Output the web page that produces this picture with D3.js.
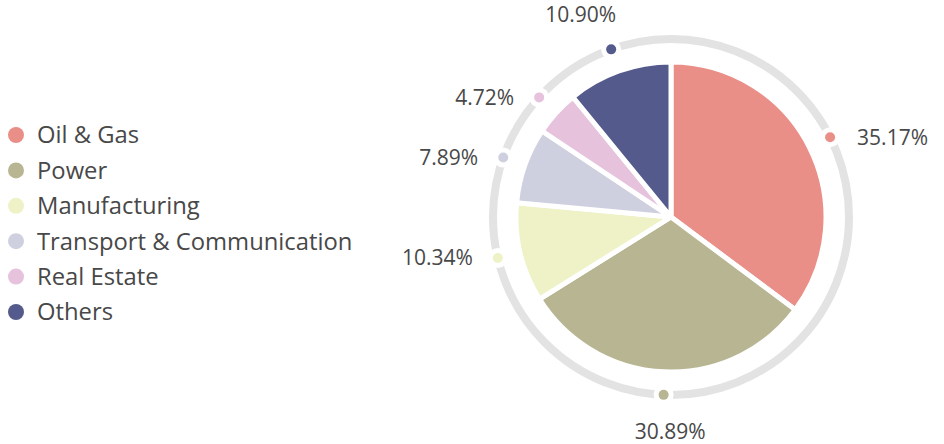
<!DOCTYPE html>
<html>
<head>
<meta charset="utf-8">
<script src="https://cdn.jsdelivr.net/npm/d3@7"></script>
<style>
  body { margin: 0; background: #fff; }
  text { font-family: "Open Sans", sans-serif; fill: #484848; }
</style>
</head>
<body>
<div id="chart"></div>
<script>
// data
const categories = ["Oil & Gas", "Power", "Manufacturing", "Transport & Communication", "Real Estate", "Others"];
const shares = [35.17, 30.89, 10.34, 7.89, 4.72, 10.90];
const colors = ["#ea8f88", "#b8b592", "#eef2c6", "#cfd0df", "#e6c2dc", "#545b8c"];

const width = 944, height = 444;
const cx = 671, cy = 217;
const radius = 155, ringR = 178;

const svg = d3.select("#chart").append("svg")
    .attr("width", width)
    .attr("height", height);

const color = d3.scaleOrdinal().domain(categories).range(colors);

// legend
const legend = svg.append("g").attr("transform", "translate(16,135)");
const rows = legend.selectAll("g").data(categories).enter().append("g")
    .attr("transform", (d, i) => "translate(0," + i * 35.4 + ")");
rows.append("circle").attr("r", 8).attr("fill", d => color(d));
rows.append("text")
    .attr("x", 21)
    .attr("dy", "0.35em")
    .style("font-size", "23.8px")
    .text(d => d);

const g = svg.append("g").attr("transform", "translate(" + cx + "," + cy + ")");

// outer ring
g.append("circle")
    .attr("r", ringR)
    .attr("fill", "none")
    .attr("stroke", "#e3e3e3")
    .attr("stroke-width", 8);

const pie = d3.pie().sort(null).value(d => d.value);
const arcs = pie(categories.map((c, i) => ({ name: c, value: shares[i] })));

const arc = d3.arc().innerRadius(0).outerRadius(radius);

g.selectAll("path.slice").data(arcs).enter().append("path")
    .attr("class", "slice")
    .attr("d", arc)
    .attr("fill", d => color(d.data.name))
    .attr("stroke", "#fff")
    .attr("stroke-width", 5)
    .attr("stroke-linejoin", "round");

// dots on the ring
const mid = d => (d.startAngle + d.endAngle) / 2;
const dots = g.selectAll("g.dot").data(arcs).enter().append("g")
    .attr("class", "dot")
    .attr("transform", d => "translate(" + ringR * Math.sin(mid(d)) + "," + (-ringR * Math.cos(mid(d))) + ")");
dots.append("circle").attr("r", 10).attr("fill", "#fff");
dots.append("circle").attr("r", 5).attr("fill", d => color(d.data.name));

// labels
g.selectAll("text.lbl").data(arcs).enter().append("text")
    .attr("class", "lbl")
    .style("font-size", "21px")
    .each(function(d) {
        const a = mid(d), s = Math.sin(a), c = Math.cos(a);
        const t = d3.select(this);
        if (Math.abs(s) > 0.5) {
            t.attr("x", ringR * s + (s > 0 ? 27 : -25))
             .attr("y", -ringR * c)
             .attr("dy", "0.35em")
             .attr("text-anchor", s > 0 ? "start" : "end");
        } else {
            t.attr("x", 215 * s + (c > 0 ? -18 : 8))
             .attr("y", -215 * c)
             .attr("dy", "0.35em")
             .attr("text-anchor", "middle");
        }
    })
    .text(d => d.data.value.toFixed(2) + "%");
</script>
</body>
</html>
